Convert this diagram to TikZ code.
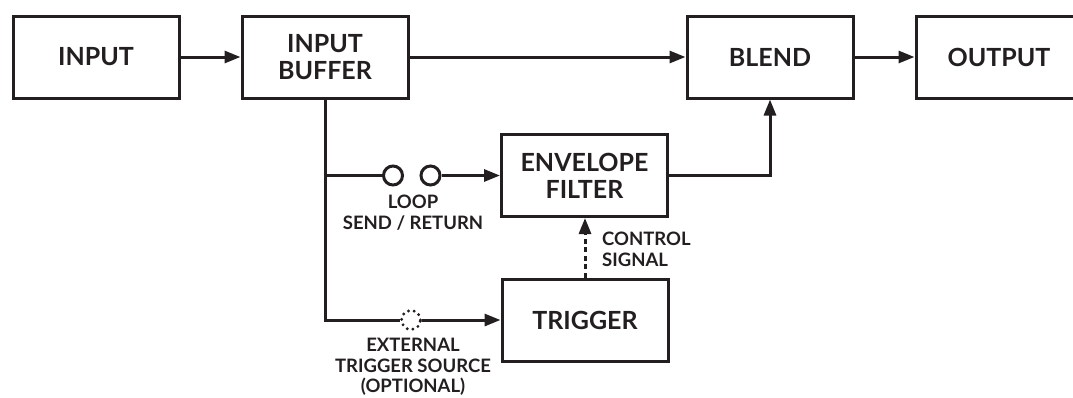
\documentclass[tikz,border=0pt]{standalone}
\usepackage{fontspec}
\setmainfont{Lato}
\usetikzlibrary{arrows.meta}
\definecolor{ink}{HTML}{231F20}
\tikzset{
  block/.style={draw=ink, line width=3pt, minimum width=166pt, minimum height=82pt,
    align=center, text=ink, font=\fontsize{25}{27}\selectfont\bfseries},
  line/.style={draw=ink, line width=3pt},
  wire/.style={line, -{Triangle[length=16pt,width=12pt]}},
  jack/.style={circle, draw=ink, line width=3pt, minimum size=19pt, inner sep=0pt},
  socket/.style={jack, line width=3.2pt, line cap=round, dash pattern=on 0pt off 5.8pt},
  note/.style={text=ink, font=\fontsize{18.5}{20.5}\selectfont\bfseries, inner sep=0pt, align=center},
}
\begin{document}
\begin{tikzpicture}[x=1pt,y=-1pt]
    \useasboundingbox (0,0) rectangle (1073,397);

    % signal chain
    \node[block] (in) at (96,57) {INPUT};
    \node[block] (buf) at (325,57) {INPUT\\BUFFER};
    \node[block] (blend) at (770,57) {BLEND};
    \node[block] (out) at (999,57) {OUTPUT};

    % wet path
    \node[block] (env) at (584.5,175.5) {ENVELOPE\\FILTER};
    \node[block] (trig) at (585,320) {TRIGGER};

    % jacks
    \node[jack] (send) at (393,175.5) {};
    \node[jack] (ret) at (430.5,175.5) {};
    \node[socket] (ext) at (411,320) {};

    \draw[wire] (in) -- (buf);
    \draw[wire] (buf) -- (blend);
    \draw[wire] (blend) -- (out);

    \draw[line] (buf) |- (ext);
    \draw[line] (buf.south |- send) -- (send);
    \draw[wire] (ret) -- (env);
    \draw[wire] (ext) -- (trig);
    \draw[wire] (env) -| (blend);
    \draw[wire, dash pattern=on 5pt off 3.5pt] (trig) -- (trig |- env.south);

    \node[note, anchor=north] (loopnote) at (413,195) {LOOP\\SEND / RETURN};
    \node[note, anchor=north west, align=left] (ctrlnote) at (602,232) {CONTROL\\SIGNAL};
    \node[note, anchor=north] (extnote) at (413,338) {EXTERNAL\\TRIGGER SOURCE\\(OPTIONAL)};
\end{tikzpicture}
\end{document}
